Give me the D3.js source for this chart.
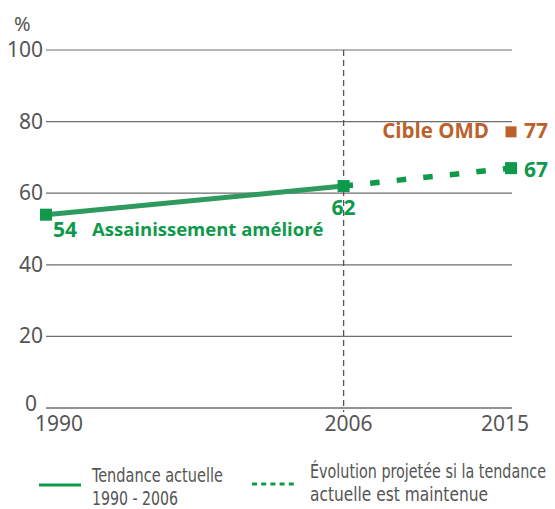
<!DOCTYPE html>
<html lang="fr">
<head>
    <meta charset="utf-8">
    <title>Assainissement</title>
    <script src="https://d3js.org/d3.v7.min.js" charset="utf-8"></script>
    <style type="text/css">
        body { margin: 0; background: #fff; }
        .tick-label { font-family: 'Noto Sans', sans-serif; fill: #555; font-size: 21px; }
        .legend-label { font-family: 'DejaVu Sans', sans-serif; font-stretch: condensed; fill: #555; font-size: 19px; }
        .val { font-family: 'Open Sans', sans-serif; font-weight: bold; font-size: 21px; }
    </style>
</head>
<body>
    <script type="text/javascript">

        // data
        var years = [1990, 2006, 2015];
        var trend = [{ year: 1990, value: 54 }, { year: 2006, value: 62 }];
        var projection = [{ year: 2006, value: 62 }, { year: 2015, value: 67 }];
        var target = { year: 2015, value: 77 };
        var yTicks = [0, 20, 40, 60, 80, 100];

        var width = 555, height = 509;
        var green = "#0f9a4b", lineGreen = "#2e9a5f", brown = "#bb622c", grid = "#6e6e6e";

        var svg = d3.select("body").append("svg")
            .attr("width", width)
            .attr("height", height);

        var x = d3.scaleLinear().domain([1990, 2015]).range([46, 511]);
        var y = d3.scaleLinear().domain([0, 100]).range([408, 50]);

        // gridlines
        svg.selectAll(".grid")
            .data(yTicks)
            .enter()
            .append("line")
            .attr("x1", x(1990))
            .attr("x2", x(2015) + 1)
            .attr("y1", function (d) { return y(d); })
            .attr("y2", function (d) { return y(d); })
            .attr("stroke", grid)
            .attr("stroke-width", function (d) { return d == 0 ? 1.6 : 1.2; });

        // y labels
        svg.selectAll(".ylab")
            .data(yTicks)
            .enter()
            .append("text")
            .attr("class", "tick-label")
            .attr("text-anchor", "end")
            .attr("x", function (d) { return d == 0 ? 37 : 43; })
            .attr("y", function (d) { return d == 0 ? y(d) + 3 : y(d) + 7; })
            .text(function (d) { return d; });

        svg.append("text")
            .attr("class", "tick-label")
            .style("font-size", "20px")
            .attr("x", 14)
            .attr("y", 31)
            .text("%");

        // x labels
        var xOffsets = { 1990: 13, 2006: 5, 2015: -6 };
        svg.selectAll(".xlab")
            .data(years)
            .enter()
            .append("text")
            .attr("class", "tick-label")
            .attr("text-anchor", "middle")
            .attr("x", function (d) { return x(d) + xOffsets[d]; })
            .attr("y", 431)
            .text(function (d) { return d; });

        // 2006 marker line
        svg.append("line")
            .attr("x1", x(2006))
            .attr("x2", x(2006))
            .attr("y1", y(100))
            .attr("y2", y(0) + 4)
            .attr("stroke", "#555")
            .attr("stroke-width", 1.3)
            .attr("stroke-dasharray", "6,4");

        var line = d3.line()
            .x(function (d) { return x(d.year); })
            .y(function (d) { return y(d.value); });

        svg.append("path")
            .datum(trend)
            .attr("d", line)
            .attr("fill", "none")
            .attr("stroke", lineGreen)
            .attr("stroke-width", 5);

        svg.append("path")
            .datum(projection)
            .attr("d", line)
            .attr("fill", "none")
            .attr("stroke", green)
            .attr("stroke-width", 5.5)
            .attr("stroke-dasharray", "9.5,17.2");

        // markers
        var pts = trend.concat([projection[1]]);
        svg.selectAll(".mark")
            .data(pts)
            .enter()
            .append("rect")
            .attr("x", function (d) { return x(d.year) - 6; })
            .attr("y", function (d) { return y(d.value) - 6; })
            .attr("width", 12)
            .attr("height", 12)
            .attr("fill", green);

        svg.append("rect")
            .attr("x", x(target.year) - 5.5)
            .attr("y", y(target.value) - 6)
            .attr("width", 11)
            .attr("height", 11)
            .attr("fill", brown);

        // value labels
        svg.append("text").attr("class", "val").attr("fill", green)
            .attr("x", 53).attr("y", 237).text(trend[0].value);
        svg.append("text").attr("class", "val").attr("fill", green)
            .style("font-size", "18.5px")
            .attr("x", 92).attr("y", 236).text("Assainissement amélioré");
        svg.append("text").attr("class", "val").attr("fill", green)
            .attr("text-anchor", "middle")
            .attr("x", x(2006)).attr("y", 215).text(trend[1].value);
        svg.append("text").attr("class", "val").attr("fill", green)
            .attr("x", 524).attr("y", 177).text(projection[1].value);
        svg.append("text").attr("class", "val").attr("fill", brown)
            .attr("x", 524).attr("y", 138).text(target.value);
        svg.append("text").attr("class", "val").attr("fill", brown)
            .style("font-size", "20.5px")
            .attr("text-anchor", "end")
            .attr("x", 489).attr("y", 138).text("Cible OMD");

        // legend
        svg.append("line")
            .attr("x1", 39).attr("x2", 81)
            .attr("y1", 485).attr("y2", 485)
            .attr("stroke", green).attr("stroke-width", 3);
        svg.append("line")
            .attr("x1", 252).attr("x2", 294)
            .attr("y1", 484).attr("y2", 484)
            .attr("stroke", green).attr("stroke-width", 3)
            .attr("stroke-dasharray", "5,4.2");

        // widths taken from the reference so the narrow face fits
        function legendText(x0, y0, lines, widths) {
            var t = svg.append("text").attr("class", "legend-label").attr("x", x0).attr("y", y0);
            lines.forEach(function (s, i) {
                t.append("tspan")
                    .attr("x", x0)
                    .attr("dy", i == 0 ? 0 : 23)
                    .attr("textLength", widths[i])
                    .attr("lengthAdjust", "spacingAndGlyphs")
                    .text(s);
            });
        }
        legendText(92, 482, ["Tendance actuelle", "1990 - 2006"], [131, 86]);
        legendText(310, 478, ["Évolution projetée si la tendance", "actuelle est maintenue"], [236, 178]);

    </script>
</body>
</html>
